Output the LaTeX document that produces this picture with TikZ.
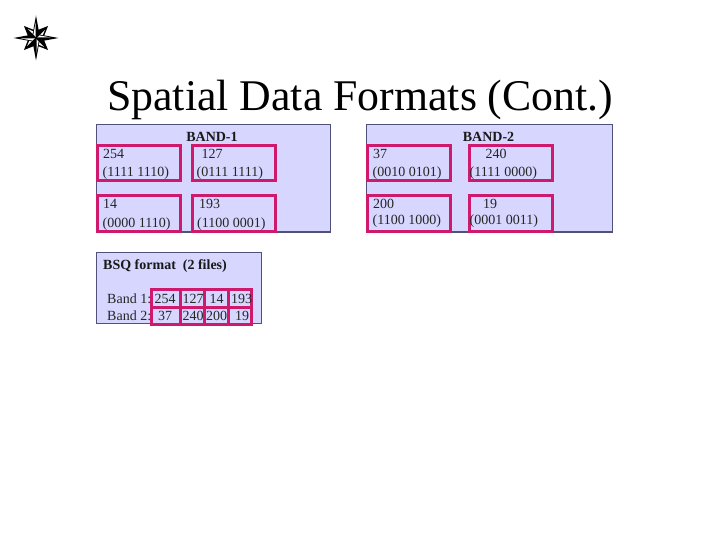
\documentclass[tikz,border=0pt]{standalone}
\usepackage{fontspec}
\setmainfont{Liberation Serif}
\definecolor{panelfill}{RGB}{214,214,255}
\definecolor{panelline}{RGB}{80,80,120}
\definecolor{boxred}{RGB}{206,26,108}
\tikzset{
  panel/.style={draw=panelline,fill=panelfill,line width=1pt},
  redbox/.style={draw=boxred,line width=3pt},
  txt/.style={anchor=base west,inner sep=0pt,font=\fontsize{14}{16}\selectfont,text=black!85},
  btxt/.style={anchor=base,inner sep=0pt,font=\fontsize{14}{16}\selectfont\bfseries,text=black!90},
  titletxt/.style={anchor=base west,inner sep=0pt,font=\fontsize{43.8}{50}\selectfont}
}
\begin{document}
\begin{tikzpicture}[x=1pt,y=-1pt]
\useasboundingbox (0,0) rectangle (720,540);
\fill[white] (0,0) rectangle (720,540);
% compass
\begin{scope}[shift={(36,38)}]
  \foreach \a in {45,135,225,315}{
    \begin{scope}[rotate=\a]
      \fill[black] (17,0) -- (3,6) -- (0,0) -- (3,-6) -- cycle;
      \fill[white] (12,0.6) -- (5,3.4) -- (4,0.6) -- cycle;
    \end{scope}
  }
  \foreach \a in {0,90,180,270}{
    \begin{scope}[rotate=\a]
      \fill[black] (22.5,0) -- (3.5,3.5) -- (0,0) -- (3.5,-3.5) -- cycle;
      \fill[white] (15,-0.5) -- (3.5,-2.6) -- (1.2,-0.5) -- cycle;
    \end{scope}
  }
\end{scope}
\node[titletxt] (title) at (107,111) {Spatial Data Formats (Cont.)};
% panels
\draw[panel] (96.5,124.5) rectangle (330,232);
\draw[panel] (366.5,124.5) rectangle (612,232);
\draw[panel] (96.5,252) rectangle (261.5,323);
\node[btxt] (b1) at (212,141.5) {BAND-1};
\node[btxt] (b2) at (488.5,141.5) {BAND-2};
% red boxes
\draw[redbox] (97.5,145.5) rectangle (180,180.5);
\draw[redbox] (192.5,145.5) rectangle (275.5,180.5);
\draw[redbox] (97.5,196) rectangle (180,231.5);
\draw[redbox] (192.5,196) rectangle (275.5,231.5);
\draw[redbox] (367.5,145.5) rectangle (450,180.5);
\draw[redbox] (469,145.5) rectangle (552,180.5);
\draw[redbox] (367.5,196) rectangle (450,231.5);
\draw[redbox] (469,196) rectangle (552,231.5);
% band 1 text
\node[txt] (a1) at (103,158.5) {254};
\node[txt] (a2) at (102.5,177) {(1111 1110)};
\node[txt] (a3) at (201.5,158.5) {127};
\node[txt] (a4) at (196.5,177) {(0111 1111)};
\node[txt] (a5) at (103,209) {14};
\node[txt] (a6) at (102.5,228) {(0000 1110)};
\node[txt] (a7) at (199,209) {193};
\node[txt] (a8) at (197,228) {(1100 0001)};
% band 2 text
\node[txt] (c1) at (373,158.5) {37};
\node[txt] (c2) at (372.5,177) {(0010 0101)};
\node[txt] (c3) at (485.5,158.5) {240};
\node[txt] (c4) at (469.5,177) {(1111 0000)};
\node[txt] (c5) at (373,209) {200};
\node[txt] (c6) at (372.5,225) {(1100 1000)};
\node[txt] (c7) at (483,209) {19};
\node[txt] (c8) at (469.5,225) {(0001 0011)};
% BSQ
\node[anchor=base west,inner sep=0pt,font=\fontsize{14}{16}\selectfont\bfseries,text=black!90] (bsq) at (103,269.5) {BSQ format\ \ (2 files)};
\draw[redbox] (151,289) rectangle (251.5,324.5);
\draw[redbox] (151,307) -- (251.5,307);
\draw[redbox] (180,289) -- (180,324.5);
\draw[redbox] (204,289) -- (204,324.5);
\draw[redbox] (228,289) -- (228,324.5);
\node[txt] (l1) at (107,303) {Band 1:};
\node[txt] (l2) at (107,320) {Band 2:};
\node[txt] (d1) at (154.5,303) {254};
\node[txt] (d2) at (182.5,303) {127};
\node[txt] (d3) at (209.5,303) {14};
\node[txt] (d4) at (231,303) {193};
\node[txt] (e1) at (158,320) {37};
\node[txt] (e2) at (182.5,320) {240};
\node[txt] (e3) at (206,320) {200};
\node[txt] (e4) at (235,320) {19};
\end{tikzpicture}
\end{document}
